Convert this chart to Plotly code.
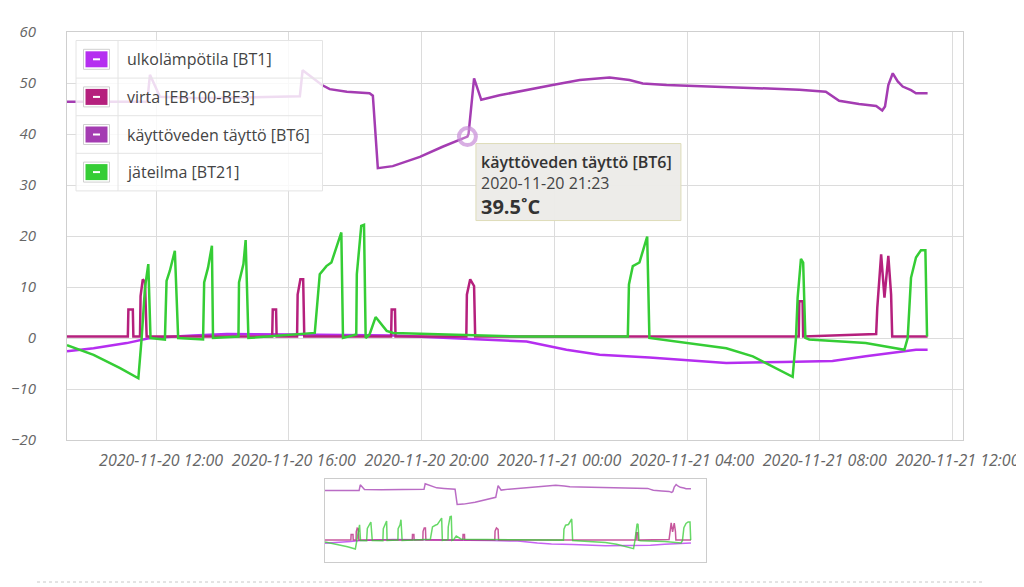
import plotly.graph_objects as go

# ulkolämpötila [BT1]
bt1_time = ["2020-11-20 09:19", "2020-11-20 10:07", "2020-11-20 11:07", "2020-11-20 11:49",
            "2020-11-20 13:07", "2020-11-20 14:08", "2020-11-20 16:08", "2020-11-20 19:09",
            "2020-11-20 21:09", "2020-11-20 22:57", "2020-11-20 23:10", "2020-11-21 00:22",
            "2020-11-21 01:22", "2020-11-21 02:52", "2020-11-21 05:11", "2020-11-21 06:53",
            "2020-11-21 08:23", "2020-11-21 09:23", "2020-11-21 10:24", "2020-11-21 10:54",
            "2020-11-21 11:15"]
bt1_value = [-2.6, -2.0, -1.0, 0.0, 0.5, 0.8, 0.7, 0.5, -0.1, -0.6, -0.7, -2.3,
             -3.3, -3.8, -4.9, -4.7, -4.5, -3.6, -2.8, -2.3, -2.3]

# virta [EB100-BE3]
be3_time = ["2020-11-20 09:19", "2020-11-20 11:09", "2020-11-20 11:10", "2020-11-20 11:18",
            "2020-11-20 11:19", "2020-11-20 11:31", "2020-11-20 11:32", "2020-11-20 11:36",
            "2020-11-20 11:40", "2020-11-20 11:43", "2020-11-20 15:30", "2020-11-20 15:31",
            "2020-11-20 15:37", "2020-11-20 15:38", "2020-11-20 16:15", "2020-11-20 16:16",
            "2020-11-20 16:21", "2020-11-20 16:26", "2020-11-20 16:28", "2020-11-20 19:05",
            "2020-11-20 19:06", "2020-11-20 19:12", "2020-11-20 19:13", "2020-11-20 21:21",
            "2020-11-20 21:22", "2020-11-20 21:28", "2020-11-20 21:35", "2020-11-20 21:37",
            "2020-11-21 07:22", "2020-11-21 07:23", "2020-11-21 07:29", "2020-11-21 07:30",
            "2020-11-21 09:42", "2020-11-21 09:44", "2020-11-21 09:51", "2020-11-21 09:57",
            "2020-11-21 10:04", "2020-11-21 10:09", "2020-11-21 10:11", "2020-11-21 11:15"]
be3_value = [0.3, 0.3, 5.6, 5.6, 0.3, 0.3, 8.2, 11.5, 11.0, 0.3, 0.3, 5.6,
             5.6, 0.3, 0.3, 8.5, 11.5, 11.5, 0.3, 0.3, 5.6, 5.6, 0.3, 0.3,
             8.5, 11.5, 10.2, 0.3, 0.3, 7.2, 7.2, 0.3, 0.8, 5.9, 16.4, 7.9,
             16.1, 8.5, 0.3, 0.3]

# käyttöveden täyttö [BT6]
bt6_time = ["2020-11-20 09:19", "2020-11-20 11:44", "2020-11-20 11:49", "2020-11-20 12:07",
            "2020-11-20 13:19", "2020-11-20 15:08", "2020-11-20 16:20", "2020-11-20 16:25",
            "2020-11-20 17:00", "2020-11-20 17:14", "2020-11-20 17:45", "2020-11-20 18:26",
            "2020-11-20 18:32", "2020-11-20 18:41", "2020-11-20 19:08", "2020-11-20 19:57",
            "2020-11-20 20:38", "2020-11-20 21:23", "2020-11-20 21:25", "2020-11-20 21:35",
            "2020-11-20 21:48", "2020-11-20 22:21", "2020-11-20 22:57", "2020-11-20 23:57",
            "2020-11-21 00:46", "2020-11-21 01:40", "2020-11-21 02:16", "2020-11-21 02:40",
            "2020-11-21 03:23", "2020-11-21 04:22", "2020-11-21 05:53", "2020-11-21 07:23",
            "2020-11-21 08:11", "2020-11-21 08:23", "2020-11-21 08:35", "2020-11-21 09:11",
            "2020-11-21 09:42", "2020-11-21 09:53", "2020-11-21 09:58", "2020-11-21 10:04",
            "2020-11-21 10:12", "2020-11-21 10:21", "2020-11-21 10:30", "2020-11-21 10:45",
            "2020-11-21 10:54", "2020-11-21 11:15"]
bt6_value = [46.3, 46.3, 51.6, 47.3, 47.0, 47.2, 47.4, 52.5, 49.6, 48.8, 48.3, 48.0,
             47.5, 33.3, 33.7, 35.5, 37.5, 39.5, 40.0, 50.9, 46.7, 47.6, 48.3, 49.6,
             50.6, 51.1, 50.6, 49.9, 49.6, 49.4, 49.1, 48.7, 48.3, 47.4, 46.5, 45.9,
             45.5, 44.6, 45.4, 49.6, 51.9, 50.3, 49.3, 48.6, 48.0, 48.0]

# jäteilma [BT21]
bt21_time = ["2020-11-20 09:19", "2020-11-20 10:07", "2020-11-20 10:55", "2020-11-20 11:28",
             "2020-11-20 11:34", "2020-11-20 11:40", "2020-11-20 11:46", "2020-11-20 11:50",
             "2020-11-20 12:16", "2020-11-20 12:19", "2020-11-20 12:25", "2020-11-20 12:34",
             "2020-11-20 12:40", "2020-11-20 13:25", "2020-11-20 13:27", "2020-11-20 13:34",
             "2020-11-20 13:41", "2020-11-20 13:43", "2020-11-20 14:29", "2020-11-20 14:30",
             "2020-11-20 14:38", "2020-11-20 14:42", "2020-11-20 14:47", "2020-11-20 16:47",
             "2020-11-20 16:56", "2020-11-20 17:08", "2020-11-20 17:17", "2020-11-20 17:35",
             "2020-11-20 17:38", "2020-11-20 18:02", "2020-11-20 18:03", "2020-11-20 18:11",
             "2020-11-20 18:16", "2020-11-20 18:19", "2020-11-20 18:26", "2020-11-20 18:37",
             "2020-11-20 18:57", "2020-11-20 19:09", "2020-11-20 22:57", "2020-11-21 02:13",
             "2020-11-21 02:15", "2020-11-21 02:22", "2020-11-21 02:34", "2020-11-21 02:43",
             "2020-11-21 02:48", "2020-11-21 02:52", "2020-11-21 03:58", "2020-11-21 05:11",
             "2020-11-21 05:59", "2020-11-21 06:35", "2020-11-21 07:11", "2020-11-21 07:17",
             "2020-11-21 07:20", "2020-11-21 07:26", "2020-11-21 07:30", "2020-11-21 07:34",
             "2020-11-21 07:41", "2020-11-21 09:23", "2020-11-21 10:33", "2020-11-21 10:39",
             "2020-11-21 10:45", "2020-11-21 10:54", "2020-11-21 11:03", "2020-11-21 11:11",
             "2020-11-21 11:14"]
bt21_value = [-1.4, -3.3, -5.9, -7.9, 0.0, 9.9, 14.5, 0.0, -0.3, 11.2, 13.2, 17.1,
              0.0, -0.3, 10.9, 13.8, 18.1, 0.0, 0.3, 10.9, 14.5, 19.2, 0.0, 1.0,
              12.5, 14.1, 14.8, 20.7, 0.0, 0.7, 12.5, 22.0, 22.2, 0.0, 0.7, 4.1,
              1.4, 1.0, 0.3, 0.3, 10.5, 14.1, 14.8, 17.8, 19.9, 0.0, -1.0, -2.0,
              -3.6, -5.6, -7.6, 0.0, 7.9, 15.5, 14.8, 0.0, -0.3, -1.0, -2.3, 0.0,
              11.8, 15.8, 17.2, 17.2, 0.3]

series_names = ["ulkolämpötila [BT1]", "virta [EB100-BE3]",
                "käyttöveden täyttö [BT6]", "jäteilma [BT21]"]
series_colors = ["#b52ef0", "#b5207d", "#a43cb2", "#35cd35"]
series_x = [bt1_time, be3_time, bt6_time, bt21_time]
series_y = [bt1_value, be3_value, bt6_value, bt21_value]

# hovered point (tooltip)
hover_series = 2
hover_time = "2020-11-20 21:23"
hover_value = 39.5
hover_unit = "˚C"

x_range = ["2020-11-20 09:19", "2020-11-21 12:19"]
x_ticks = ["2020-11-20 12:00", "2020-11-20 16:00", "2020-11-20 20:00", "2020-11-21 00:00",
           "2020-11-21 04:00", "2020-11-21 08:00", "2020-11-21 12:00"]

fig = go.Figure()

for xs, ys, name, col in zip(series_x, series_y, series_names, series_colors):
    fig.add_trace(go.Scatter(x=xs, y=ys, name=name, mode="lines",
                             line=dict(color=col, width=2.5), xaxis="x", yaxis="y"))

# navigator copies
for xs, ys, name, col in zip(series_x, series_y, series_names, series_colors):
    fig.add_trace(go.Scatter(x=xs, y=ys, name=name, mode="lines", opacity=0.75,
                             line=dict(color=col, width=1.5), xaxis="x2", yaxis="y2",
                             hoverinfo="skip"))

fig.add_trace(go.Scatter(x=[hover_time], y=[hover_value], mode="markers",
                         marker=dict(size=17, color="rgba(255,255,255,0.25)",
                                     line=dict(width=4, color="rgba(200,140,215,0.7)")),
                         xaxis="x", yaxis="y", hoverinfo="skip"))

# page geometry (pixels); the page body adds an 8px offset
OFF = 8
ML, MR, MT, MB = 59, 61, 24, 25
W, H = 1024 - OFF, 587 - OFF
PW, PH = W - ML - MR, H - MT - MB


def pxx(v):
    return (v - OFF - ML) / PW


def pxy(v):
    return (H + OFF - MB - v) / PH


tick_font = dict(family="Open Sans", size=16, color="#666", style="italic")
ytick_font = dict(family="Open Sans", size=15, color="#666", style="italic")

fig.update_layout(
    width=W, height=H,
    margin=dict(l=ML, r=MR, t=MT, b=MB),
    paper_bgcolor="white", plot_bgcolor="white",
    showlegend=False,
    font=dict(family="Open Sans", color="#333"),
    xaxis=dict(type="date", range=x_range, tickvals=x_ticks, tickformat="%Y-%m-%d %H:%M",
               showgrid=True, gridcolor="#dcdcdc", showline=True, linecolor="#cfcfcf",
               mirror=True, ticks="", tickfont=tick_font, ticklabelstandoff=6,
               ticklabelshift=5, anchor="y", automargin=False),
    yaxis=dict(range=[-20, 60], dtick=10, showgrid=True, gridcolor="#dcdcdc",
               zeroline=False, showline=True, linecolor="#cfcfcf", mirror=True,
               ticks="", tickfont=ytick_font, ticklabelstandoff=27,
               domain=[pxy(440), 1], anchor="x", automargin=False),
    xaxis2=dict(type="date", range=x_range, domain=[pxx(325), pxx(706)],
                showgrid=False, showticklabels=False, ticks="", showline=True,
                linecolor="#cccccc", mirror=True, anchor="y2", automargin=False),
    yaxis2=dict(range=[-20, 57], domain=[0, pxy(479)], showgrid=False, zeroline=False,
                showticklabels=False, ticks="", showline=True, linecolor="#cccccc",
                mirror=True, anchor="x2", automargin=False),
)

shapes = []
annotations = []

# legend box
lx0, lx1, ly0 = 76, 322.5, 40.5
row_h = 37.6
shapes.append(dict(type="rect", xref="paper", yref="paper", x0=pxx(lx0), x1=pxx(lx1),
                   y0=pxy(ly0), y1=pxy(ly0 + row_h * len(series_names)),
                   fillcolor="rgba(255,255,255,0.82)", line=dict(color="#e4e4e4", width=1)))
shapes.append(dict(type="line", xref="paper", yref="paper", x0=pxx(118), x1=pxx(118),
                   y0=pxy(ly0), y1=pxy(ly0 + row_h * len(series_names)),
                   line=dict(color="#e4e4e4", width=1)))
for i, (name, col) in enumerate(zip(series_names, series_colors)):
    top = ly0 + row_h * i
    cy = top + row_h / 2
    if i > 0:
        shapes.append(dict(type="line", xref="paper", yref="paper", x0=pxx(lx0), x1=pxx(lx1),
                           y0=pxy(top), y1=pxy(top), line=dict(color="#e4e4e4", width=1)))
    shapes.append(dict(type="rect", xref="paper", yref="paper", x0=pxx(83.5), x1=pxx(109.5),
                       y0=pxy(cy - 10), y1=pxy(cy + 10), fillcolor="white",
                       line=dict(color="#d0d0d0", width=1)))
    shapes.append(dict(type="rect", xref="paper", yref="paper", x0=pxx(85.5), x1=pxx(107.5),
                       y0=pxy(cy - 8), y1=pxy(cy + 8), fillcolor=col, line=dict(width=0)))
    shapes.append(dict(type="line", xref="paper", yref="paper", x0=pxx(93), x1=pxx(100),
                       y0=pxy(cy), y1=pxy(cy), line=dict(color="white", width=2)))
    annotations.append(dict(xref="paper", yref="paper", x=pxx(125), y=pxy(cy), text=name,
                            showarrow=False, xanchor="left", yanchor="middle",
                            font=dict(family="Open Sans", size=16, color="#444")))

# tooltip
shapes.append(dict(type="rect", xref="x", yref="y", xsizemode="pixel", ysizemode="pixel",
                   xanchor=hover_time, yanchor=hover_value, x0=8.5, x1=213.5, y0=-7, y1=-84,
                   fillcolor="rgba(236,235,232,0.95)", line=dict(color="#dedcb8", width=1)))
tip_lines = [
    (series_names[hover_series], dict(family="Open Sans", size=16, color="#333", weight=600), -25),
    (hover_time, dict(family="Open Sans", size=16, color="#444"), -46),
    (f"{hover_value:.1f}{hover_unit}", dict(family="Open Sans", size=20, color="#333", weight="bold"), -70),
]
for txt, fnt, dy in tip_lines:
    annotations.append(dict(xref="x", yref="y", x=hover_time, y=hover_value, text=txt,
                            showarrow=False, xanchor="left", yanchor="middle",
                            xshift=12, yshift=dy, font=fnt))

# dotted separator below the chart
shapes.append(dict(type="line", xref="paper", yref="paper", x0=pxx(37), x1=pxx(982),
                   y0=pxy(582), y1=pxy(582), line=dict(color="#c8c8c8", width=1, dash="dot")))

fig.update_layout(shapes=shapes, annotations=annotations)

fig.write_html("out.html")
